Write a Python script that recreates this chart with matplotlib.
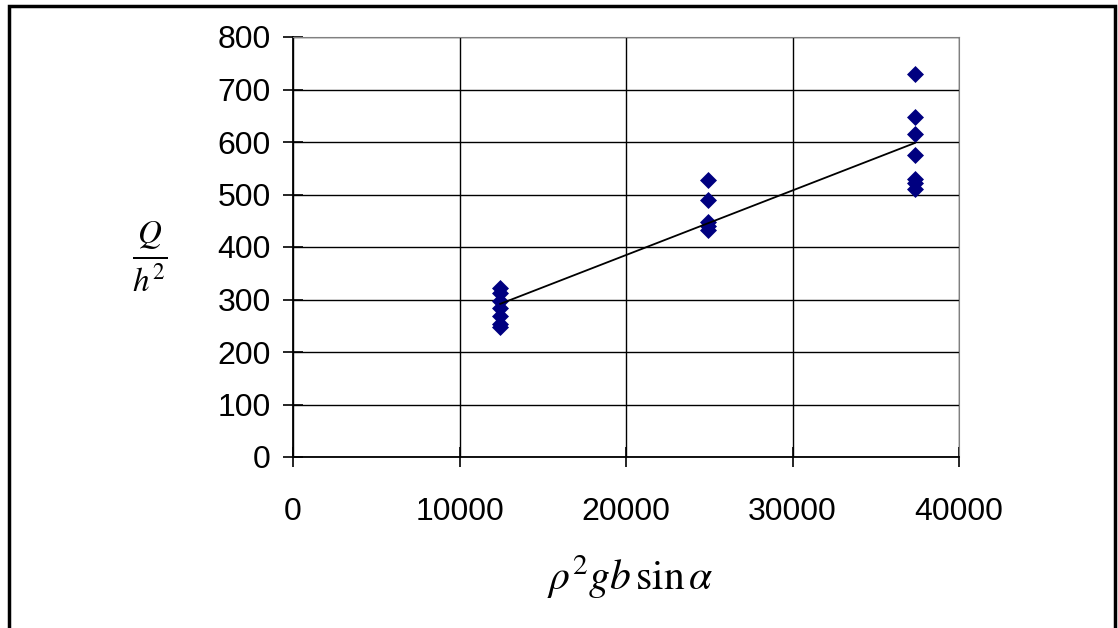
import matplotlib
matplotlib.use("Agg")
import matplotlib.pyplot as plt
import matplotlib.patches as mpatches
import numpy as np

plt.rcParams.update({
    "font.family": "Liberation Sans",
    "mathtext.fontset": "stix",
})

# data
x_low = [12450] * 7
y_low = [322, 312, 298, 284, 268, 254, 248]
x_mid = [24900] * 5
y_mid = [527, 490, 447, 440, 433]
x_high = [37350] * 7
y_high = [729, 648, 616, 576, 530, 522, 510]

xs = np.array(x_low + x_mid + x_high, dtype=float)
ys = np.array(y_low + y_mid + y_high, dtype=float)

fig = plt.figure(figsize=(11.18, 6.28), dpi=100)
ax = fig.add_axes([293 / 1118, 1 - 457 / 628, (959 - 293) / 1118, (457 - 37) / 628])

# outer frame
fig.patches.append(mpatches.Rectangle((9 / 1118, -0.02), (1115 - 9) / 1118, 1 - 6 / 628 + 0.02,
                                      transform=fig.transFigure, fill=False,
                                      edgecolor="black", linewidth=2.5))

ax.scatter(xs, ys, marker="D", s=75, color="#000080", zorder=3, linewidths=0)

# linear trend line
k, b = np.polyfit(xs, ys, 1)
xl = np.array([xs.min(), xs.max()])
ax.plot(xl, k * xl + b, color="black", lw=1.3, zorder=4)

ax.set_xlim(0, 40000)
ax.set_ylim(0, 800)
ax.set_xticks(range(0, 40001, 10000))
ax.set_yticks(range(0, 801, 100))
ax.grid(True, color="black", lw=1.0)
ax.set_axisbelow(True)
ax.tick_params(direction="inout", length=14, width=1.2, labelsize=23)
ax.tick_params(axis="y", pad=9)
ax.tick_params(axis="x", pad=22)
for s in ["top", "right"]:
    ax.spines[s].set_color("#808080")
for s in ["left", "bottom"]:
    ax.spines[s].set_linewidth(1.3)

fig.text(150 / 1118, 1 - 256 / 628, r"$\frac{Q}{h^2}$", fontsize=34,
         ha="center", va="center")
fig.text(630 / 1118, 1 - 577 / 628, r"$\rho^2 gb\,\mathrm{sin}\,\alpha$",
         fontsize=30, ha="center", va="center")

fig.savefig("out.png", dpi=100)
